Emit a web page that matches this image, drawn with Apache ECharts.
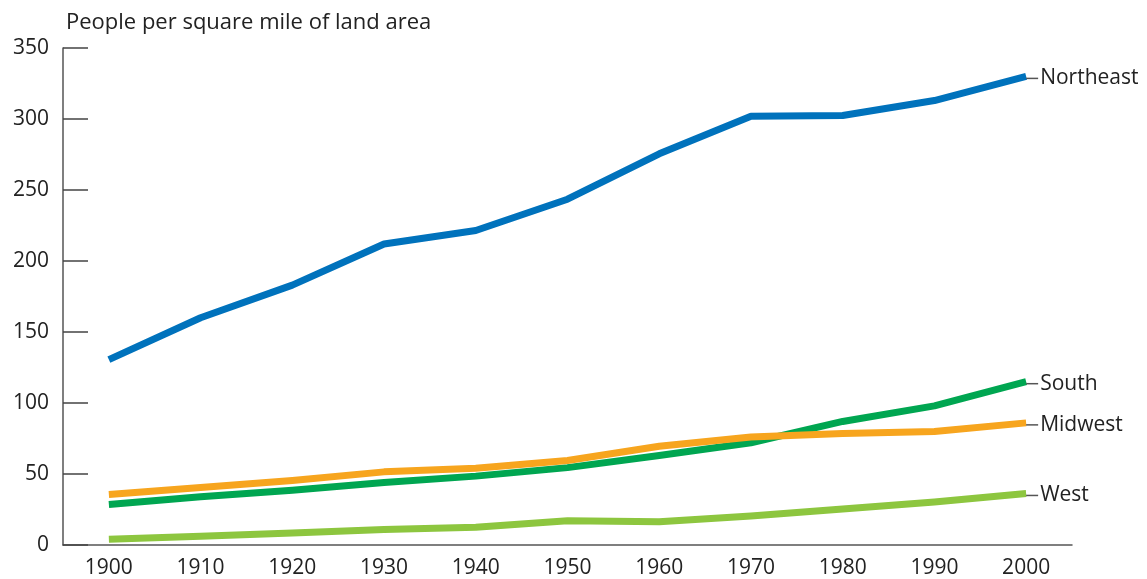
<!DOCTYPE html>
<html>
<head>
<meta charset="utf-8">
<script src="https://cdn.jsdelivr.net/npm/echarts@6/dist/echarts.min.js"></script>
<style>html,body{margin:0;padding:0;background:#fff;}#c{width:1147px;height:579px;}</style>
</head>
<body>
<div id="c"></div>
<script>
const years = ['1900','1910','1920','1930','1940','1950','1960','1970','1980','1990','2000'];
const northeast = [130.5, 160, 183, 212, 221.5, 243.5, 275.5, 302, 302.5, 313, 330];
const south     = [28.5, 34, 38.5, 44, 48.5, 54.5, 63, 72, 87, 98, 115];
const midwest   = [35.5, 40.5, 45.5, 51.5, 54, 59.5, 69.5, 76, 78.5, 80, 86];
const west      = [4, 6.2, 8.5, 11, 12.5, 17, 16.3, 20.5, 25.3, 30.3, 36.3];
const yTicks = [0, 50, 100, 150, 200, 250, 300, 350];
const yTitle = 'People per square mile of land area';

const FONT = 'Open Sans';
const FS = 21;
const chart = echarts.init(document.getElementById('c'), null, {renderer: 'canvas'});
function mk(name, data, color) {
  return {
    name: name, type: 'line', data: data, symbol: 'none', smooth: false,
    lineStyle: {color: color, width: 7, cap: 'butt', join: 'round'},
    itemStyle: {color: color},
    endLabel: {
      show: true, distance: 0, offset: [0, 2],
      formatter: '{l|}{n|' + name + '}',
      rich: {
        l: {width: 12, height: 1.5, backgroundColor: '#555', align: 'left'},
        n: {fontSize: FS, fontFamily: FONT, color: '#222', padding: [0, 0, 0, 2]}
      }
    },
    emphasis: {disabled: true}
  };
}
chart.setOption({
  animation: false,
  title: {
    text: yTitle, left: 61, top: 7,
    textStyle: {fontSize: 22, fontWeight: 'normal', fontFamily: FONT, color: '#222'}
  },
  grid: {left: 63, right: 75, top: 48, bottom: 33, containLabel: false},
  xAxis: {
    type: 'category', data: years, boundaryGap: true,
    axisLine: {lineStyle: {color: '#555', width: 1.5}},
    axisTick: {alignWithLabel: true, inside: true, length: 12, lineStyle: {color: '#444', width: 1.5}},
    axisLabel: {fontSize: FS, fontFamily: FONT, color: '#222', margin: 13},
    splitLine: {show: false}
  },
  yAxis: {
    type: 'value', min: yTicks[0], max: yTicks[yTicks.length - 1], interval: 50,
    axisLine: {show: true, lineStyle: {color: '#555', width: 1.5}},
    axisTick: {show: true, inside: true, length: 25, lineStyle: {color: '#444', width: 1.5}},
    axisLabel: {fontSize: FS, fontFamily: FONT, color: '#222', margin: 14},
    splitLine: {show: false}
  },
  series: [
    mk('Northeast', northeast, '#0072BC'),
    mk('South', south, '#00A651'),
    mk('Midwest', midwest, '#F7A51E'),
    mk('West', west, '#8DC63F')
  ]
});
</script>
</body>
</html>
